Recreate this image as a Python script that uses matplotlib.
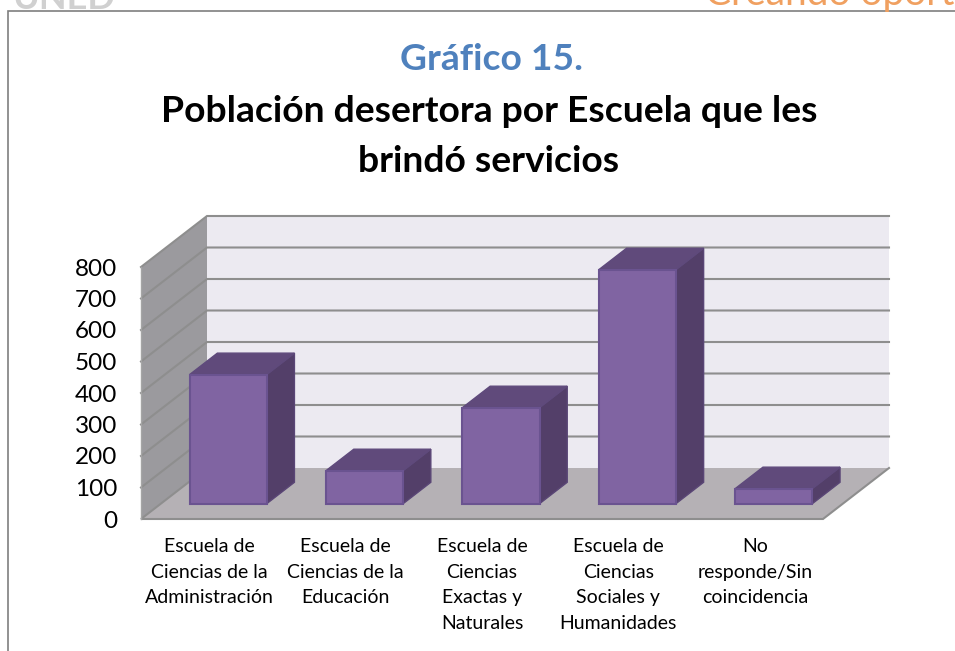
import matplotlib
matplotlib.use("Agg")
import matplotlib.pyplot as plt
from matplotlib.patches import Polygon, Rectangle

plt.rcParams["font.family"] = ["Lato", "DejaVu Sans"]

categories = [
    "Escuela de\nCiencias de la\nAdministración",
    "Escuela de\nCiencias de la\nEducación",
    "Escuela de\nCiencias\nExactas y\nNaturales",
    "Escuela de\nCiencias\nSociales y\nHumanidades",
    "No\nresponde/Sin\ncoincidencia",
]
values = [410, 105, 305, 743, 48]
y_ticks = [0, 100, 200, 300, 400, 500, 600, 700, 800]

W, H = 955, 651
# front plane of the 3d box, in pixels
left, right, bottom, top = 141, 823, 519, 267
DX = 66 / ((right - left) / 5)   # box depth in category units
DY = 51 / ((bottom - top) / 800)   # box depth in value units


def proj(x, v, d=0.0):
    return (x + d * DX, v + d * DY)


def face(ax, pts, color, edge="none", lw=0.0, z=1):
    ax.add_patch(Polygon(pts, closed=True, facecolor=color, edgecolor=edge,
                         linewidth=lw, clip_on=False, zorder=z, joinstyle="miter"))


def bar3d(ax, x, v, width=0.565, d0=0.30, d1=0.72, z=5):
    x0 = x - width / 2
    x1 = x + width / 2
    edge = "#6A5390"
    # side, top, front
    face(ax, [proj(x1, 0, d0), proj(x1, 0, d1), proj(x1, v, d1), proj(x1, v, d0)],
         "#533F69", edge="#5A4676", lw=1.0, z=z)
    face(ax, [proj(x0, v, d0), proj(x1, v, d0), proj(x1, v, d1), proj(x0, v, d1)],
         "#604A7B", edge="#5F4A7C", lw=1.0, z=z)
    face(ax, [proj(x0, 0, d0), proj(x1, 0, d0), proj(x1, v, d0), proj(x0, v, d0)],
         "#8064A2", edge=edge, lw=1.5, z=z + 0.1)


def main():
    fig = plt.figure(figsize=(W / 100, H / 100), dpi=100)
    ax = fig.add_axes([left / W, 1 - bottom / H, (right - left) / W, (bottom - top) / H])
    ax.set_xlim(0, 5)
    ax.set_ylim(0, 800)
    ax.patch.set_visible(False)
    for s in ax.spines.values():
        s.set_visible(False)

    vmax = y_ticks[-1]
    grid = "#8E8E8E"
    # walls and floor
    face(ax, [proj(0, 0, 1), proj(5, 0, 1), proj(5, vmax, 1), proj(0, vmax, 1)], "#ECEAF1")
    face(ax, [proj(0, 0, 0), proj(0, 0, 1), proj(0, vmax, 1), proj(0, vmax, 0)], "#9B9A9E")
    face(ax, [proj(0, 0, 0), proj(5, 0, 0), proj(5, 0, 1), proj(0, 0, 1)], "#B5B1B5", z=1.5)

    for v in y_ticks:
        px, py = zip(proj(0, v, 0), proj(0, v, 1), proj(5, v, 1))
        if v == 0:
            # floor edges only
            px, py = zip(proj(0, 0, 1), proj(0, 0, 0), proj(5, 0, 0), proj(5, 0, 1))
        ax.plot(px, py, color=grid, lw=1.5, clip_on=False, zorder=2, solid_joinstyle="miter")
    px, py = zip(proj(0, 0, 0), proj(0, vmax, 0))
    ax.plot(px, py, color="#A5A5A5", lw=1.0, clip_on=False, zorder=2)

    for i, v in enumerate(values):
        bar3d(ax, i + 0.494, v)

    ax.set_yticks(y_ticks)
    ax.set_yticklabels([str(v) for v in y_ticks], fontsize=17.5, color="black")
    ax.tick_params(axis="y", length=0, pad=17)
    ax.set_xticks([i + 0.5 for i in range(len(categories))])
    ax.set_xticklabels(categories, fontsize=14, color="black", linespacing=1.6)
    ax.tick_params(axis="x", length=0, pad=14)

    # chart titles
    fig.text(491 / W, 1 - 60 / H, "Gráfico 15.", fontsize=26.8, fontweight="bold",
             color="#4F81BD", ha="center", va="center")
    fig.text(489 / W, 1 - 111 / H, "Población desertora por Escuela que les", fontsize=26.8,
             fontweight="bold", color="black", ha="center", va="center")
    fig.text(489 / W, 1 - 161 / H, "brindó servicios", fontsize=26.8, fontweight="bold",
             color="black", ha="center", va="center")

    # chart frame and bits of the page header cut off above it
    fig.add_artist(Rectangle((8 / W, -0.01), 1.0, 1 - 11 / H + 0.01, transform=fig.transFigure,
                             fill=False, edgecolor="#7F7F7F", linewidth=1.2))
    fig.text(12 / W, 1 - 9 / H, "UNED", fontsize=26, fontweight="bold", color="#D0D0D0",
             ha="left", va="baseline")
    fig.text(705 / W, 1 - 5 / H, "Creando oportunidades", fontsize=28, color="#F0A060",
             ha="left", va="baseline")

    fig.savefig("out.png", dpi=100)
    plt.close(fig)


if __name__ == "__main__":
    main()
